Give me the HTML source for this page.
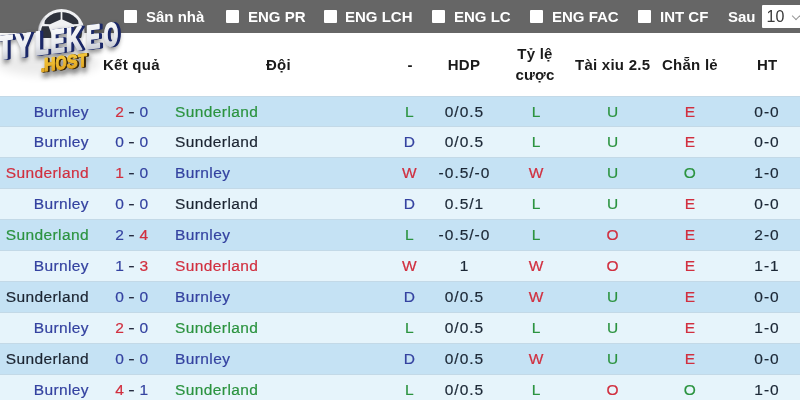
<!DOCTYPE html>
<html><head><meta charset="utf-8">
<style>
*{box-sizing:border-box;margin:0;padding:0}
html,body{width:800px;height:400px;overflow:hidden;background:#fff}
body{position:relative;font-family:"Liberation Sans",Arial,sans-serif;color:#222}
.bar{position:absolute;left:0;top:0;width:800px;height:33px;background:#666}
.cb{position:absolute;top:9.5px;width:13px;height:13px;background:#fff;border-radius:1px}
.lb{position:absolute;top:0;line-height:33px;font-size:15px;font-weight:bold;color:#fff;white-space:nowrap}
.sel{position:absolute;left:762px;top:5px;width:40px;height:23px;background:#fff;border-radius:1px}
.sel span{position:absolute;left:4.6px;top:0;line-height:23px;font-size:16px;color:#3a3a3a}
.sel i{position:absolute;left:31px;top:8px;width:6px;height:6px;border-right:1px solid #999;border-bottom:1px solid #999;transform:rotate(45deg)}
.hd{position:absolute;top:33px;left:0;width:800px;height:63px;background:#fff}
.h{position:absolute;font-size:15px;font-weight:bold;color:#1a1a1a;white-space:nowrap;line-height:21px;text-align:center;letter-spacing:0.25px}
.r{position:absolute;left:0;width:800px;height:31px;box-shadow:inset 0 1px 0 #c3d9e7}
.odd{background:#c5e2f4}
.even{background:#e6f4fb}
.c{position:absolute;top:0;line-height:31px;font-size:15.5px;white-space:nowrap;color:#1e2a38;letter-spacing:0.4px;-webkit-text-stroke:0.2px currentColor}
.home{right:711px;text-align:right}
.score{left:115.3px;color:#222}
.dash{display:inline-block;color:#262b40;transform:scaleX(1.25);margin:0 4.6px 0 5px}
.away{left:175px}
.res{left:399.5px;width:20px;text-align:center}
.hdp{left:424.5px;width:80px;text-align:center;letter-spacing:1px;color:#1c2836}
.ty{left:526.2px;width:20px;text-align:center}
.tx{left:602.8px;width:20px;text-align:center}
.cl{left:680px;width:20px;text-align:center}
.ht{left:747px;width:40px;text-align:center;letter-spacing:1px;color:#1c2836}
.logo{position:absolute;left:0;top:0;width:130px;height:85px}
</style></head><body>
<div class="bar">
<div class="cb" style="left:124px"></div><div class="lb" style="left:146px">Sân nhà</div>
<div class="cb" style="left:226px"></div><div class="lb" style="left:248px">ENG PR</div>
<div class="cb" style="left:324px"></div><div class="lb" style="left:345px">ENG LCH</div>
<div class="cb" style="left:432px"></div><div class="lb" style="left:454px">ENG LC</div>
<div class="cb" style="left:530px"></div><div class="lb" style="left:552px">ENG FAC</div>
<div class="cb" style="left:638px"></div><div class="lb" style="left:660px">INT CF</div>
<div class="lb" style="left:728px">Sau</div>
<div class="sel"><span>10</span><i></i></div>
</div>
<div class="hd">
<div class="h" style="left:103px;top:21px">Kết quả</div>
<div class="h" style="left:266px;top:21px">Đội</div>
<div class="h" style="left:400px;top:21px;width:20px">-</div>
<div class="h" style="left:434px;top:21px;width:60px">HDP</div>
<div class="h" style="left:505px;top:10px;width:60px">Tỷ lệ<br>cược</div>
<div class="h" style="left:575px;top:21px">Tài xiu 2.5</div>
<div class="h" style="left:662px;top:21px">Chẵn lẻ</div>
<div class="h" style="left:757px;top:21px">HT</div>
</div>
<div class="r odd" style="top:95.5px">
<span class="c home" style="color:#3442a0">Burnley</span>
<span class="c score"><span style="color:#d12f3f">2</span><span class="dash">-</span><span style="color:#3442a0">0</span></span>
<span class="c away" style="color:#2b933f">Sunderland</span>
<span class="c res" style="color:#2b933f">L</span>
<span class="c hdp">0/0.5</span>
<span class="c ty" style="color:#2b933f">L</span>
<span class="c tx" style="color:#2b933f">U</span>
<span class="c cl" style="color:#d12f3f">E</span>
<span class="c ht">0-0</span>
</div>
<div class="r even" style="top:126.46px">
<span class="c home" style="color:#3442a0">Burnley</span>
<span class="c score"><span style="color:#3442a0">0</span><span class="dash">-</span><span style="color:#3442a0">0</span></span>
<span class="c away" style="color:#1b2431">Sunderland</span>
<span class="c res" style="color:#3442a0">D</span>
<span class="c hdp">0/0.5</span>
<span class="c ty" style="color:#2b933f">L</span>
<span class="c tx" style="color:#2b933f">U</span>
<span class="c cl" style="color:#d12f3f">E</span>
<span class="c ht">0-0</span>
</div>
<div class="r odd" style="top:157.42px">
<span class="c home" style="color:#d12f3f">Sunderland</span>
<span class="c score"><span style="color:#d12f3f">1</span><span class="dash">-</span><span style="color:#3442a0">0</span></span>
<span class="c away" style="color:#3442a0">Burnley</span>
<span class="c res" style="color:#d12f3f">W</span>
<span class="c hdp">-0.5/-0</span>
<span class="c ty" style="color:#d12f3f">W</span>
<span class="c tx" style="color:#2b933f">U</span>
<span class="c cl" style="color:#2b933f">O</span>
<span class="c ht">1-0</span>
</div>
<div class="r even" style="top:188.38px">
<span class="c home" style="color:#3442a0">Burnley</span>
<span class="c score"><span style="color:#3442a0">0</span><span class="dash">-</span><span style="color:#3442a0">0</span></span>
<span class="c away" style="color:#1b2431">Sunderland</span>
<span class="c res" style="color:#3442a0">D</span>
<span class="c hdp">0.5/1</span>
<span class="c ty" style="color:#2b933f">L</span>
<span class="c tx" style="color:#2b933f">U</span>
<span class="c cl" style="color:#d12f3f">E</span>
<span class="c ht">0-0</span>
</div>
<div class="r odd" style="top:219.34px">
<span class="c home" style="color:#2b933f">Sunderland</span>
<span class="c score"><span style="color:#3442a0">2</span><span class="dash">-</span><span style="color:#d12f3f">4</span></span>
<span class="c away" style="color:#3442a0">Burnley</span>
<span class="c res" style="color:#2b933f">L</span>
<span class="c hdp">-0.5/-0</span>
<span class="c ty" style="color:#2b933f">L</span>
<span class="c tx" style="color:#d12f3f">O</span>
<span class="c cl" style="color:#d12f3f">E</span>
<span class="c ht">2-0</span>
</div>
<div class="r even" style="top:250.3px">
<span class="c home" style="color:#3442a0">Burnley</span>
<span class="c score"><span style="color:#3442a0">1</span><span class="dash">-</span><span style="color:#d12f3f">3</span></span>
<span class="c away" style="color:#d12f3f">Sunderland</span>
<span class="c res" style="color:#d12f3f">W</span>
<span class="c hdp">1</span>
<span class="c ty" style="color:#d12f3f">W</span>
<span class="c tx" style="color:#d12f3f">O</span>
<span class="c cl" style="color:#d12f3f">E</span>
<span class="c ht">1-1</span>
</div>
<div class="r odd" style="top:281.26px">
<span class="c home" style="color:#1b2431">Sunderland</span>
<span class="c score"><span style="color:#3442a0">0</span><span class="dash">-</span><span style="color:#3442a0">0</span></span>
<span class="c away" style="color:#3442a0">Burnley</span>
<span class="c res" style="color:#3442a0">D</span>
<span class="c hdp">0/0.5</span>
<span class="c ty" style="color:#d12f3f">W</span>
<span class="c tx" style="color:#2b933f">U</span>
<span class="c cl" style="color:#d12f3f">E</span>
<span class="c ht">0-0</span>
</div>
<div class="r even" style="top:312.22px">
<span class="c home" style="color:#3442a0">Burnley</span>
<span class="c score"><span style="color:#d12f3f">2</span><span class="dash">-</span><span style="color:#3442a0">0</span></span>
<span class="c away" style="color:#2b933f">Sunderland</span>
<span class="c res" style="color:#2b933f">L</span>
<span class="c hdp">0/0.5</span>
<span class="c ty" style="color:#2b933f">L</span>
<span class="c tx" style="color:#2b933f">U</span>
<span class="c cl" style="color:#d12f3f">E</span>
<span class="c ht">1-0</span>
</div>
<div class="r odd" style="top:343.18px">
<span class="c home" style="color:#1b2431">Sunderland</span>
<span class="c score"><span style="color:#3442a0">0</span><span class="dash">-</span><span style="color:#3442a0">0</span></span>
<span class="c away" style="color:#3442a0">Burnley</span>
<span class="c res" style="color:#3442a0">D</span>
<span class="c hdp">0/0.5</span>
<span class="c ty" style="color:#d12f3f">W</span>
<span class="c tx" style="color:#2b933f">U</span>
<span class="c cl" style="color:#d12f3f">E</span>
<span class="c ht">0-0</span>
</div>
<div class="r even" style="top:374.14px">
<span class="c home" style="color:#3442a0">Burnley</span>
<span class="c score"><span style="color:#d12f3f">4</span><span class="dash">-</span><span style="color:#3442a0">1</span></span>
<span class="c away" style="color:#2b933f">Sunderland</span>
<span class="c res" style="color:#2b933f">L</span>
<span class="c hdp">0/0.5</span>
<span class="c ty" style="color:#2b933f">L</span>
<span class="c tx" style="color:#d12f3f">O</span>
<span class="c cl" style="color:#2b933f">O</span>
<span class="c ht">1-0</span>
</div>

<svg class="logo" width="130" height="85" viewBox="0 0 130 85">
<defs>
<clipPath id="bc2"><circle cx="61.5" cy="32.5" r="20.5"/></clipPath>
<filter id="blur" x="-20%" y="-20%" width="140%" height="160%"><feGaussianBlur stdDeviation="2.2"/></filter>
<linearGradient id="fg" gradientUnits="userSpaceOnUse" x1="0" y1="-23" x2="0" y2="1"><stop offset="0" stop-color="#f6f7f9"/><stop offset="0.6" stop-color="#e8eaef"/><stop offset="1" stop-color="#c9ccd4"/></linearGradient>
<linearGradient id="hg" gradientUnits="userSpaceOnUse" x1="0" y1="-14" x2="0" y2="1"><stop offset="0" stop-color="#f6c93a"/><stop offset="1" stop-color="#e2a722"/></linearGradient>
<filter id="soft" x="-50%" y="-50%" width="200%" height="200%"><feGaussianBlur stdDeviation="5"/></filter>
</defs>
<circle cx="61.5" cy="32" r="23" fill="#f0f1f3"/>
<path d="M39.5,38 A22.5,22.5 0 0 1 45,17" fill="none" stroke="#c8cacf" stroke-width="2" opacity="0.6"/>
<g clip-path="url(#bc2)" fill="#2e323c">
<polygon points="44.5,24 45,17 49,13.2 54.5,11.5 60.6,11.3 60.6,19.6 50,24.2"/>
<polygon points="78.5,24 78,17 74,13.2 68.5,11.5 62.4,11.3 62.4,19.6 73,24.2"/>
<polygon points="39,26.2 48.6,26.2 52.8,38 38,38"/>
<polygon points="74.4,26.2 85,26.2 85,38 70.2,38"/>
</g>
<ellipse cx="48" cy="63" rx="52" ry="13" fill="#000" opacity="0.08" filter="url(#soft)"/>
<g transform="skewY(-6.8)" font-family="Liberation Sans" font-weight="bold" font-size="33" stroke-linejoin="round">
<g fill="#333" stroke="#333" stroke-width="4" opacity="0.5" filter="url(#blur)"><text transform="translate(-0.48,62.20) scale(0.72,1)">T</text><text transform="translate(16.38,62.20) scale(0.72,1)">Y</text><text transform="translate(36.36,62.20) scale(0.68,1)">L</text><text transform="translate(51.93,62.20) scale(0.65,1)">E</text><text transform="translate(67.39,62.20) scale(0.67,1)">K</text><text transform="translate(87.43,62.20) scale(0.65,1)">E</text><text transform="translate(105.19,62.20) scale(0.56,1)">O</text></g>
<g fill="#1b2868" stroke="#1b2868" stroke-width="1.8" ><text transform="translate(-1.18,59.30) scale(0.72,1)">T</text><text transform="translate(15.68,59.30) scale(0.72,1)">Y</text><text transform="translate(35.66,59.30) scale(0.68,1)">L</text><text transform="translate(51.23,59.30) scale(0.65,1)">E</text><text transform="translate(66.69,59.30) scale(0.67,1)">K</text><text transform="translate(86.73,59.30) scale(0.65,1)">E</text><text transform="translate(104.49,59.30) scale(0.56,1)">O</text></g>
<g fill="#1b2868" stroke="#1b2868" stroke-width="1.8" ><text transform="translate(-0.38,59.40) scale(0.72,1)">T</text><text transform="translate(16.48,59.40) scale(0.72,1)">Y</text><text transform="translate(36.46,59.40) scale(0.68,1)">L</text><text transform="translate(52.03,59.40) scale(0.65,1)">E</text><text transform="translate(67.49,59.40) scale(0.67,1)">K</text><text transform="translate(87.53,59.40) scale(0.65,1)">E</text><text transform="translate(105.29,59.40) scale(0.56,1)">O</text></g>
<g fill="#1b2868" stroke="#1b2868" stroke-width="1.8" ><text transform="translate(0.42,59.50) scale(0.72,1)">T</text><text transform="translate(17.28,59.50) scale(0.72,1)">Y</text><text transform="translate(37.26,59.50) scale(0.68,1)">L</text><text transform="translate(52.83,59.50) scale(0.65,1)">E</text><text transform="translate(68.29,59.50) scale(0.67,1)">K</text><text transform="translate(88.33,59.50) scale(0.65,1)">E</text><text transform="translate(106.09,59.50) scale(0.56,1)">O</text></g>
<g fill="#1b2868" stroke="#1b2868" stroke-width="1.8" ><text transform="translate(1.12,59.55) scale(0.72,1)">T</text><text transform="translate(17.98,59.55) scale(0.72,1)">Y</text><text transform="translate(37.96,59.55) scale(0.68,1)">L</text><text transform="translate(53.53,59.55) scale(0.65,1)">E</text><text transform="translate(68.99,59.55) scale(0.67,1)">K</text><text transform="translate(89.03,59.55) scale(0.65,1)">E</text><text transform="translate(106.79,59.55) scale(0.56,1)">O</text></g>
<g fill="url(#fg)" stroke="url(#fg)" stroke-width="1.8" ><text transform="translate(-1.98,59.20) scale(0.72,1)">T</text><text transform="translate(14.88,59.20) scale(0.72,1)">Y</text><text transform="translate(34.86,59.20) scale(0.68,1)">L</text><text transform="translate(50.43,59.20) scale(0.65,1)">E</text><text transform="translate(65.89,59.20) scale(0.67,1)">K</text><text transform="translate(85.93,59.20) scale(0.65,1)">E</text><text transform="translate(103.69,59.20) scale(0.56,1)">O</text></g>
<g font-size="18.5" fill="#333" stroke="#333" stroke-width="3.5" opacity="0.5" filter="url(#blur)"><text transform="translate(42.85,81.00) scale(0.85,1)">.</text><text transform="translate(46.19,81.00) scale(0.86,1)">H</text><text transform="translate(57.72,81.00) scale(0.77,1)">O</text><text transform="translate(68.90,81.00) scale(0.88,1)">S</text><text transform="translate(80.26,81.00) scale(0.78,1)">T</text></g>
<g font-size="18.5" fill="#3e2a0a" stroke="#3e2a0a" stroke-width="1.2" ><text transform="translate(41.30,76.70) scale(0.85,1)">.</text><text transform="translate(44.64,76.70) scale(0.86,1)">H</text><text transform="translate(56.17,76.70) scale(0.77,1)">O</text><text transform="translate(67.35,76.70) scale(0.88,1)">S</text><text transform="translate(78.71,76.70) scale(0.78,1)">T</text></g>
<g font-size="18.5" fill="#3e2a0a" stroke="#3e2a0a" stroke-width="1.2" ><text transform="translate(41.90,76.90) scale(0.85,1)">.</text><text transform="translate(45.24,76.90) scale(0.86,1)">H</text><text transform="translate(56.77,76.90) scale(0.77,1)">O</text><text transform="translate(67.95,76.90) scale(0.88,1)">S</text><text transform="translate(79.31,76.90) scale(0.78,1)">T</text></g>
<g font-size="18.5" fill="#3e2a0a" stroke="#3e2a0a" stroke-width="1.2" ><text transform="translate(42.50,77.10) scale(0.85,1)">.</text><text transform="translate(45.84,77.10) scale(0.86,1)">H</text><text transform="translate(57.37,77.10) scale(0.77,1)">O</text><text transform="translate(68.55,77.10) scale(0.88,1)">S</text><text transform="translate(79.91,77.10) scale(0.78,1)">T</text></g>
<g font-size="18.5" fill="url(#hg)" stroke="url(#hg)" stroke-width="1.2" ><text transform="translate(40.70,76.50) scale(0.85,1)">.</text><text transform="translate(44.04,76.50) scale(0.86,1)">H</text><text transform="translate(55.57,76.50) scale(0.77,1)">O</text><text transform="translate(66.75,76.50) scale(0.88,1)">S</text><text transform="translate(78.11,76.50) scale(0.78,1)">T</text></g>
</g>
</svg>
</body></html>
